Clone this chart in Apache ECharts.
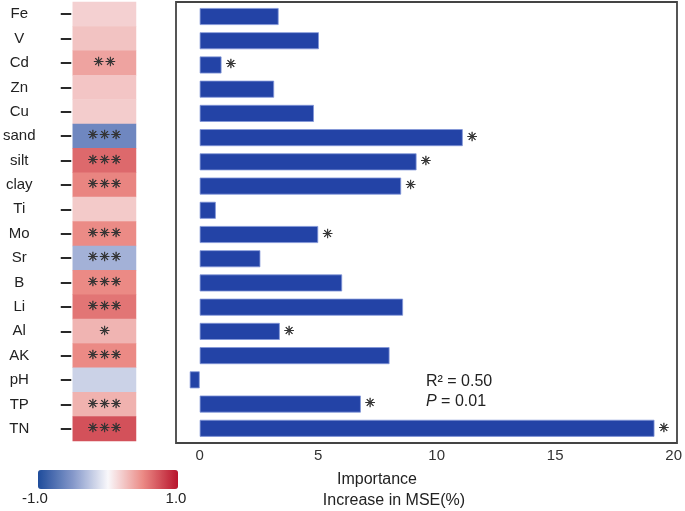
<!DOCTYPE html>
<html><head><meta charset="utf-8">
<script src="https://cdn.jsdelivr.net/npm/echarts@6/dist/echarts.min.js"></script>
<style>html,body{margin:0;padding:0;background:#fff}#c{width:685px;height:511px}</style>
</head><body><div id="c"></div>
<script>
const categories = ['Fe','V','Cd','Zn','Cu','sand','silt','clay','Ti','Mo','Sr','B','Li','Al','AK','pH','TP','TN'];
const correlation = [0.18,0.24,0.385,0.23,0.20,-0.61,0.64,0.52,0.21,0.495,-0.37,0.5,0.59,0.31,0.5,-0.2,0.32,0.74];
const corrSignificance = ['','','**','','','***','***','***','','***','***','***','***','*','***','','***','***'];
const importance = [3.33,5.03,0.92,3.14,4.82,11.1,9.15,8.5,0.68,5.0,2.56,6.01,8.58,3.38,8.01,-0.42,6.8,19.19];
const importanceSignificance = ['','','*','','','*','*','*','','*','','','','*','','','*','*'];
const xTickValues = [0,5,10,15,20];
const colorbarLabels = ['-1.0','1.0'];
const statsR2 = 'R² = 0.50';
const statsP = '0.01';

const STAR = '\u2733\uFE0E';
const toStars = s => s.split('').map(() => STAR).join('\u200A');
const FONT = 'Liberation Sans';

const chart = echarts.init(document.getElementById('c'), null, {renderer: 'canvas'});
chart.setOption({
  animation: false,
  backgroundColor: '#fff',
  grid: [
    {left: 72, width: 64, top: 2, height: 439},
    {left: 176, width: 501, top: 4.4, height: 436}
  ],
  xAxis: [
    {gridIndex: 0, type: 'category', data: ['r'], show: false},
    {gridIndex: 1, type: 'value', min: -1, max: 20,
     axisLine: {show: false}, axisTick: {show: false}, splitLine: {show: false},
     axisLabel: {customValues: xTickValues, fontSize: 15, color: '#333', margin: 8, fontFamily: FONT}}
  ],
  yAxis: [
    {gridIndex: 0, type: 'category', data: categories, inverse: true, offset: 1.5,
     axisLine: {show: false},
     axisTick: {show: true, alignWithLabel: true, length: 10.5, lineStyle: {color: '#111', width: 1.8}},
     axisLabel: {fontSize: 15, color: '#222', align: 'center', margin: 52, fontFamily: FONT}},
    {gridIndex: 1, type: 'category', data: categories, inverse: true, show: false}
  ],
  visualMap: {
    type: 'continuous', seriesIndex: 0, min: -1, max: 1, orient: 'horizontal',
    left: 38, top: 470, itemWidth: 19, itemHeight: 140, padding: 0,
    calculable: false, text: null, showLabel: false,
    inRange: {color: ['#1f4c9b', '#8598ca', '#f9f8fb', '#eb8a85', '#b8132c']}
  },
  series: [
    {type: 'heatmap', xAxisIndex: 0, yAxisIndex: 0,
     data: correlation.map((v, i) => [0, i, v]),
     itemStyle: {borderWidth: 0},
     emphasis: {disabled: true},
     label: {show: true, color: '#333', fontSize: 12.5, fontFamily: 'DejaVu Sans',
             textBorderColor: '#333', textBorderWidth: 0.5,
             formatter: p => toStars(corrSignificance[p.dataIndex])}},
    {type: 'bar', xAxisIndex: 1, yAxisIndex: 1, data: importance, barWidth: 17,
     itemStyle: {color: '#2343a6', borderColor: '#8196d8', borderWidth: 0.8},
     emphasis: {disabled: true},
     label: {show: true, position: 'right', distance: 4, color: '#333', fontSize: 12.5, fontFamily: 'DejaVu Sans',
             textBorderColor: '#333', textBorderWidth: 0.5,
             formatter: p => toStars(importanceSignificance[p.dataIndex])}}
  ],
  graphic: [
    {type: 'rect', shape: {x: 176, y: 2, width: 501, height: 441}, silent: true,
     style: {fill: 'none', stroke: '#444', lineWidth: 1.8}},
    {type: 'text', left: 426, top: 374, style: {text: statsR2, font: '16px "Liberation Sans", Arial', fill: '#222'}},
    {type: 'text', left: 426, top: 394, style: {text: '{i|P} = ' + statsP, font: '16px "Liberation Sans", Arial', fill: '#222',
      rich: {i: {fontStyle: 'italic', fontSize: 16, fontFamily: 'Liberation Sans'}}}},
    {type: 'text', x: 377, y: 480, style: {text: 'Importance', font: '16px "Liberation Sans", Arial', fill: '#222', align: 'center', verticalAlign: 'middle'}},
    {type: 'text', x: 394, y: 501, style: {text: 'Increase in MSE(%)', font: '16px "Liberation Sans", Arial', fill: '#222', align: 'center', verticalAlign: 'middle'}},
    {type: 'text', x: 35, y: 499, style: {text: colorbarLabels[0], font: '15px "Liberation Sans", Arial', fill: '#222', align: 'center', verticalAlign: 'middle'}},
    {type: 'text', x: 176, y: 499, style: {text: colorbarLabels[1], font: '15px "Liberation Sans", Arial', fill: '#222', align: 'center', verticalAlign: 'middle'}}
  ]
});
</script></body></html>
